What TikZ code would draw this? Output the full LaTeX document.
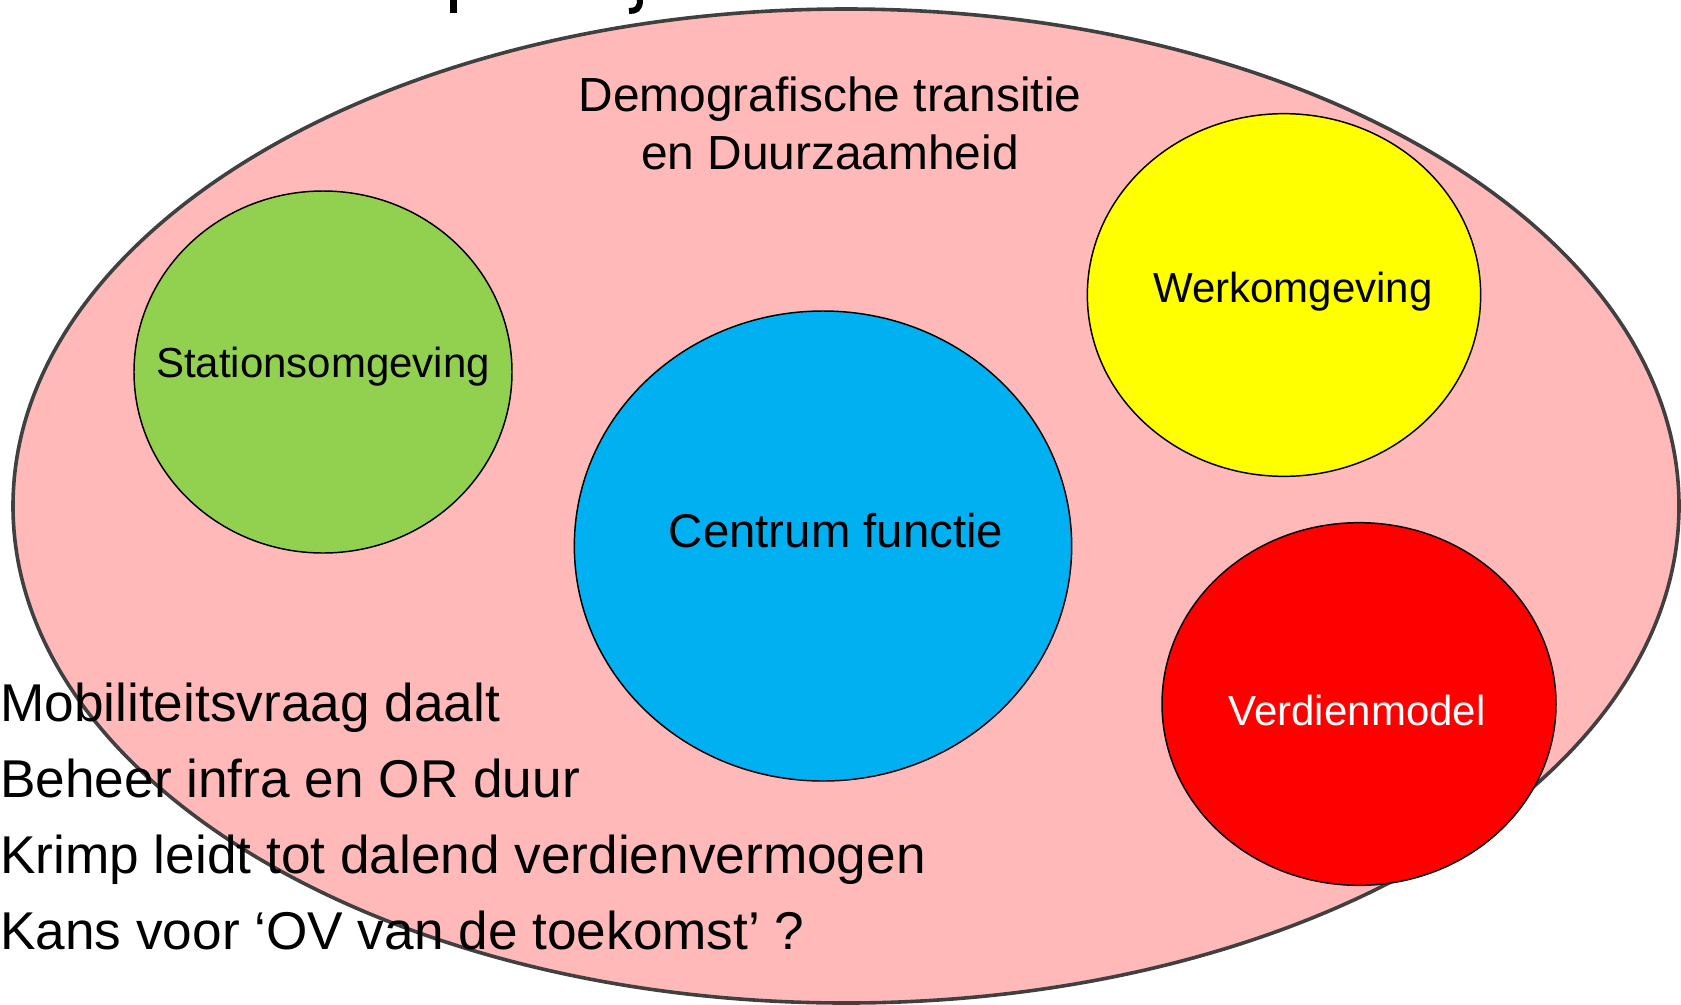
\documentclass[tikz,border=0pt]{standalone}
\usepackage{fontspec}
\setmainfont{Liberation Sans}
\usetikzlibrary{shapes.geometric}
\definecolor{pinkbg}{HTML}{FFB9B9}
\definecolor{edgegray}{HTML}{404040}
\definecolor{cgreen}{HTML}{92D050}
\definecolor{cblue}{HTML}{00B0F0}
\definecolor{cyellow}{HTML}{FFFF00}
\definecolor{cred}{HTML}{FF0000}
\tikzset{
  bub/.style={ellipse, draw=black, line width=1.1pt, inner sep=0pt, outer sep=0pt},
  lbl/.style={anchor=base, inner sep=0pt, font=\fontsize{31.5pt}{38pt}\selectfont},
  bullet/.style={anchor=base west, inner sep=0pt, font=\fontsize{39.9pt}{48pt}\selectfont}
}
\begin{document}
\begin{tikzpicture}[x=0.75pt, y=-0.75pt]
\useasboundingbox (0,0) rectangle (1681,1004);
% title fragments cut off at the top
\fill (450,0) rectangle (457,13);
\draw[line width=4.5pt] (640,0) .. controls (640,9) and (636,11) .. (629,11);
% big ellipse
\node[ellipse, draw=edgegray, fill=pinkbg, line width=2.7pt, inner sep=0pt, outer sep=0pt,
      minimum width=1249.5pt, minimum height=745.5pt] (big) at (846,506) {};
\node[anchor=base, inner sep=0pt, align=center, font=\fontsize{35.9pt}{42.8pt}\selectfont] (title) at (830,169)
  {Demografische transitie\\en Duurzaamheid};
% bubbles
\node[bub, fill=cgreen, minimum width=283.5pt, minimum height=271.5pt] (station) at (323,372) {};
\node[bub, fill=cblue, minimum width=373pt, minimum height=352.5pt] (centrum) at (823,546) {};
\node[bub, fill=cyellow, minimum width=295pt, minimum height=272pt] (werk) at (1284,295) {};
\node[bub, fill=cred, minimum width=295.5pt, minimum height=272pt] (verdien) at (1359,704) {};
\node[lbl] (stationlbl) at (323,377) {Stationsomgeving};
\node[lbl] (werklbl) at (1293,302) {Werkomgeving};
\node[lbl, font=\fontsize{35.5pt}{42pt}\selectfont] (centrumlbl) at (836,547) {Centrum functie};
\node[lbl, text=white] (verdienlbl) at (1357,725) {Verdienmodel};
% left text
\node[bullet] (l1) at (0,721) {Mobiliteitsvraag daalt};
\node[bullet] (l2) at (0,797) {Beheer infra en OR duur};
\node[bullet] (l3) at (0,873) {Krimp leidt tot dalend verdienvermogen};
\node[bullet] (l4) at (0,949) {Kans voor ‘OV van de toekomst’ ?};
\end{tikzpicture}
\end{document}
